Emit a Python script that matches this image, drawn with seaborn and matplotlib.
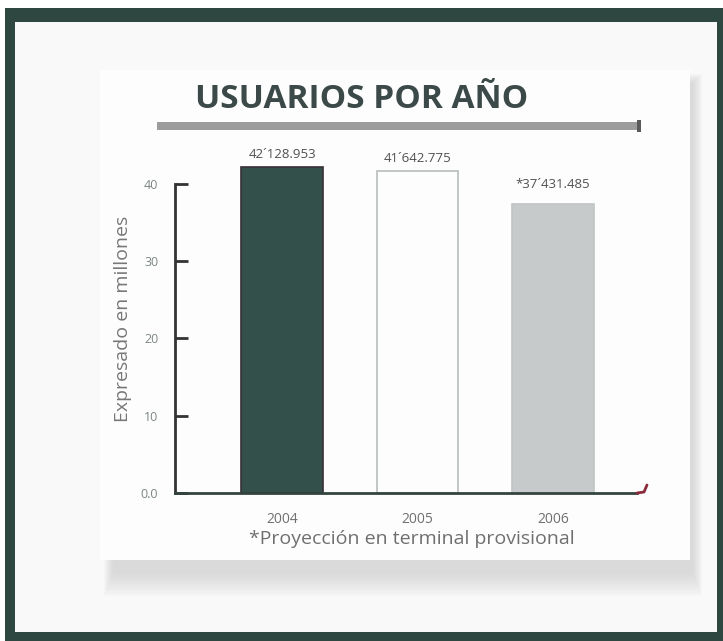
import matplotlib
matplotlib.use("Agg")
import matplotlib.pyplot as plt
from matplotlib.patches import Rectangle
from matplotlib.lines import Line2D
import pandas as pd
import seaborn as sns

# data
years = ["2004", "2005", "2006"]
users_millions = [42.128953, 41.642775, 37.431485]
value_labels = ["42´128.953", "41´642.775", "*37´431.485"]
ytick_values = [0, 10, 20, 30, 40]
ytick_labels = ["0.0", "10", "20", "30", "40"]
bar_colors = ["#33504a", "#fdfdfd", "#c7cacb"]
edge_colors = ["#3a2f38", "#b9bdbd", "#c0c4c4"]

W, H = 723, 641

sns.set_theme(style="white")
plt.rcParams["font.family"] = ["Open Sans", "DejaVu Sans"]

fig = plt.figure(figsize=(W / 100, H / 100), dpi=100)
fig.patch.set_facecolor("white")


def px_rect(x0, y0, x1, y1, **kw):
    # rectangle given in pixel coords measured from the top-left
    r = Rectangle((x0 / W, 1 - y1 / H), (x1 - x0) / W, (y1 - y0) / H,
                  transform=fig.transFigure, **kw)
    fig.patches.append(r)
    return r


# dark scanned frame
px_rect(5, 8, 723, 641, facecolor="#2f4741", edgecolor="none", zorder=-10)
px_rect(15, 22, 717, 632, facecolor="#f9f9f9", edgecolor="none", zorder=-9)

# soft card shadow and card
for i in range(10):
    px_rect(104 + i, 74 + i, 702 - i, 596 - i * 2.5,
            facecolor="#c4c4c4", alpha=0.07, edgecolor="none", zorder=-8)
px_rect(100, 70, 690, 560, facecolor="#fdfdfd", edgecolor="none", zorder=-7)

# title and underline
fig.text(362 / W, 1 - 100 / H, "USUARIOS POR AÑO", ha="center", va="center",
         fontsize=24, fontweight="bold", color="#3b4a48")
px_rect(157, 122, 640, 130, facecolor="#9c9c9c", edgecolor="none", zorder=1)
px_rect(637, 120, 641, 132, facecolor="#5a5a5a", edgecolor="none", zorder=1)

# axes placed so that 0 sits at y=493 and the categories at x=282/417/553
ax_left, ax_right = 175, 648
ax_bottom, ax_top = 493, 145
ax = fig.add_axes([ax_left / W, 1 - ax_bottom / H,
                   (ax_right - ax_left) / W, (ax_bottom - ax_top) / H])
ax.set_facecolor("none")

df = pd.DataFrame({"year": years, "users": users_millions})
sns.barplot(data=df, x="year", y="users", hue="year", palette=bar_colors,
            legend=False, width=0.6, ax=ax, saturation=1)
for patch, ec in zip(ax.patches, edge_colors):
    patch.set_edgecolor(ec)
    patch.set_linewidth(1.2)

ax.set_xlim(-0.79, 2.70)
ax.set_ylim(0, 45.0)

offsets = [9, 9, 14]
for i, (v, lab) in enumerate(zip(users_millions, value_labels)):
    ax.annotate(lab, (i, v), xytext=(0, offsets[i]), textcoords="offset points",
                ha="center", va="center", fontsize=9.5, color="#505050")

ax.set_yticks(ytick_values)
ax.set_yticklabels(ytick_labels)
ax.tick_params(axis="y", left=True, direction="in", length=9, width=2,
               color="#333333", labelsize=9, labelcolor="#7c8782", pad=12)
ax.tick_params(axis="x", bottom=False, length=0, labelsize=10,
               labelcolor="#707070", pad=14)

for side in ["top", "right"]:
    ax.spines[side].set_visible(False)
ax.spines["left"].set_bounds(0, 40)
ax.spines["left"].set_color("#333333")
ax.spines["left"].set_linewidth(2)
ax.spines["bottom"].set_bounds(-0.79, 2.62)
ax.spines["bottom"].set_color("#33443f")
ax.spines["bottom"].set_linewidth(2)

# little red hook at the end of the baseline
fig.lines.append(Line2D([637 / W, 644 / W, 647 / W],
                        [1 - 493 / H, 1 - 492 / H, 1 - 485 / H],
                        transform=fig.transFigure, color="#8a2a3a", lw=2))

ax.set_xlabel("*Proyección en terminal provisional", fontsize=14,
              color="#6f6f6f", labelpad=2)
ax.set_ylabel("Expresado en millones", fontsize=14, color="#777777",
              labelpad=6)

fig.savefig("out.png", dpi=100)
